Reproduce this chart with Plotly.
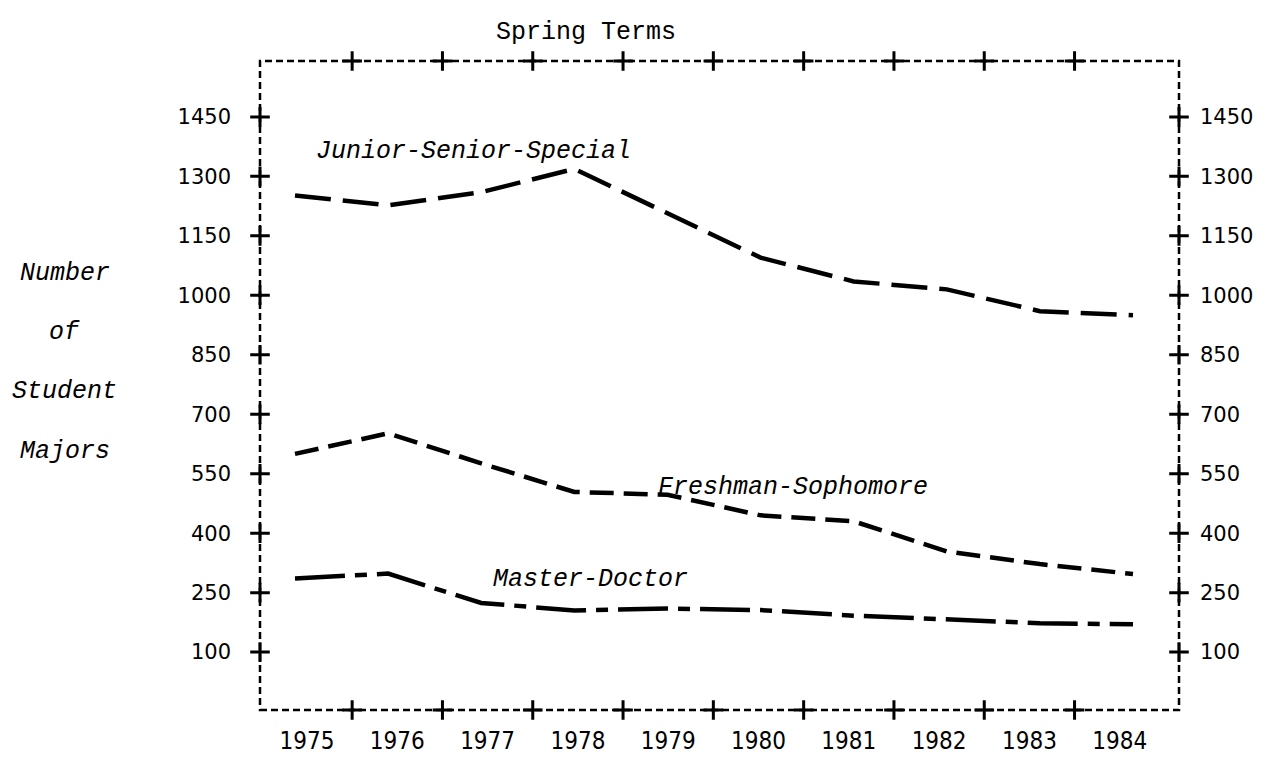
import plotly.graph_objects as go

years = [1975, 1976, 1977, 1978, 1979, 1980, 1981, 1982, 1983, 1984]
junior_senior_special = [1252, 1227, 1260, 1319, 1207, 1095, 1035, 1015, 960, 950]
freshman_sophomore = [600, 652, 576, 504, 497, 445, 430, 354, 322, 297]
master_doctor = [286, 298, 224, 205, 210, 206, 192, 182, 173, 170]

y_ticks = [100, 250, 400, 550, 700, 850, 1000, 1150, 1300, 1450]
x_frame_ticks = [1975.5, 1976.5, 1977.5, 1978.5, 1979.5, 1980.5, 1981.5, 1982.5, 1983.5]

# axis ranges (style)
X_LABEL_RANGE = [1974.4795, 1984.6567]
X_DATA_RANGE = [1974.6241, 1984.494]
Y_RANGE = [-46, 1591]

fig = go.Figure()

line_w = 4.5
fig.add_trace(go.Scatter(x=years, y=junior_senior_special, mode="lines", xaxis="x2", yaxis="y",
                         line=dict(color="black", width=line_w, dash="36px,12px"), showlegend=False))
fig.add_trace(go.Scatter(x=years, y=freshman_sophomore, mode="lines", xaxis="x2", yaxis="y",
                         line=dict(color="black", width=line_w, dash="24px,10px"), showlegend=False))
fig.add_trace(go.Scatter(x=years, y=master_doctor, mode="lines", xaxis="x2", yaxis="y",
                         line=dict(color="black", width=line_w, dash="50px,10px,12px,10px"), showlegend=False))

plus = dict(symbol="cross-thin", size=14, line=dict(color="black", width=3), color="black")
# "+" marks on the frame: left and right sides
fig.add_trace(go.Scatter(x=[X_LABEL_RANGE[0]] * len(y_ticks), y=y_ticks, mode="markers", marker=plus,
                         cliponaxis=False, showlegend=False, hoverinfo="skip"))
fig.add_trace(go.Scatter(x=[X_LABEL_RANGE[1]] * len(y_ticks), y=y_ticks, mode="markers", marker=plus,
                         cliponaxis=False, showlegend=False, hoverinfo="skip"))
# top and bottom
fig.add_trace(go.Scatter(x=x_frame_ticks, y=[Y_RANGE[0]] * len(x_frame_ticks), mode="markers", marker=plus,
                         cliponaxis=False, showlegend=False, hoverinfo="skip"))
fig.add_trace(go.Scatter(x=x_frame_ticks, y=[Y_RANGE[1]] * len(x_frame_ticks), mode="markers", marker=plus,
                         cliponaxis=False, showlegend=False, hoverinfo="skip"))

# dashed frame
fig.add_shape(type="rect", xref="x domain", yref="y domain", x0=0, x1=1, y0=0, y1=1,
              line=dict(color="black", width=2.5, dash="7px,4px"), layer="below")

ital = dict(family="Liberation Mono, Courier New, monospace", size=25, color="black", style="italic")
fig.add_annotation(text="Junior-Senior-Special", x=1975.2, y=1362, xref="x2", yref="y",
                   xanchor="left", yanchor="middle", showarrow=False, font=ital)
fig.add_annotation(text="Freshman-Sophomore", x=1978.88, y=516, xref="x2", yref="y",
                   xanchor="left", yanchor="middle", showarrow=False, font=ital)
fig.add_annotation(text="Master-Doctor", x=1977.1, y=282, xref="x2", yref="y",
                   xanchor="left", yanchor="middle", showarrow=False, font=ital)

for txt, py in [("Number", 0.672), ("of", 0.581), ("Student", 0.490), ("Majors", 0.399)]:
    fig.add_annotation(text=txt, x=-0.2124, y=py, xref="paper", yref="paper",
                       xanchor="center", yanchor="middle", showarrow=False, font=ital)

fig.add_annotation(text="Spring Terms", x=0.355, y=1.044, xref="paper", yref="paper",
                   xanchor="center", yanchor="middle", showarrow=False,
                   font=dict(family="Liberation Mono, Courier New, monospace", size=25, color="black"))

tickfont_y = dict(family="DejaVu Sans", size=21, color="black")
tickfont_x = dict(family="DejaVu Sans Condensed, DejaVu Sans", size=24, color="black")

fig.update_layout(
    width=1272, height=759,
    margin=dict(l=252, r=101, t=53, b=45),
    paper_bgcolor="white", plot_bgcolor="white",
    xaxis=dict(range=X_LABEL_RANGE, tickvals=years, ticktext=[str(y) for y in years],
               showgrid=False, zeroline=False, showline=False, ticks="",
               tickfont=tickfont_x, ticklabelstandoff=14, fixedrange=True),
    xaxis2=dict(range=X_DATA_RANGE, overlaying="x", visible=False, fixedrange=True),
    yaxis=dict(range=Y_RANGE, tickvals=y_ticks, ticktext=[str(v) for v in y_ticks],
               showgrid=False, zeroline=False, showline=False, ticks="",
               tickfont=tickfont_y, ticklabelstandoff=28, fixedrange=True),
    yaxis2=dict(range=Y_RANGE, overlaying="y", side="right", tickvals=y_ticks,
                ticktext=[str(v) for v in y_ticks], showgrid=False, zeroline=False,
                showline=False, ticks="", tickfont=tickfont_y, ticklabelstandoff=20,
                fixedrange=True),
)
# invisible trace to activate yaxis2
fig.add_trace(go.Scatter(x=[years[0]], y=[y_ticks[0]], yaxis="y2", mode="markers",
                         marker=dict(opacity=0), showlegend=False, hoverinfo="skip"))

fig.write_html("out.html")
